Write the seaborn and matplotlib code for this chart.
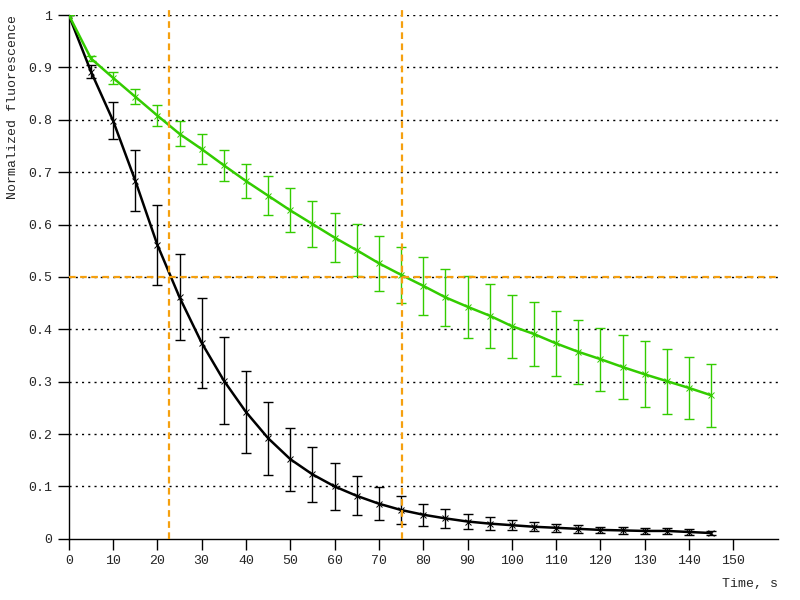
import matplotlib
matplotlib.use("Agg")
import matplotlib.pyplot as plt
import seaborn as sns
import numpy as np

time = list(range(0, 150, 5))

black_mean = [1.0, 0.892, 0.798, 0.684, 0.561, 0.461, 0.374, 0.302, 0.242, 0.192,
              0.152, 0.123, 0.100, 0.082, 0.067, 0.055, 0.046, 0.039, 0.033, 0.029,
              0.026, 0.023, 0.021, 0.019, 0.017, 0.016, 0.015, 0.015, 0.013, 0.011]
black_err = [0.0, 0.012, 0.035, 0.058, 0.077, 0.082, 0.086, 0.083, 0.078, 0.070,
             0.060, 0.053, 0.045, 0.037, 0.031, 0.027, 0.021, 0.018, 0.015, 0.012,
             0.010, 0.009, 0.008, 0.007, 0.006, 0.006, 0.005, 0.006, 0.005, 0.004]

green_mean = [1.0, 0.917, 0.880, 0.844, 0.808, 0.773, 0.744, 0.713, 0.683, 0.655,
              0.627, 0.601, 0.575, 0.551, 0.526, 0.504, 0.483, 0.461, 0.443, 0.426,
              0.406, 0.391, 0.373, 0.357, 0.343, 0.328, 0.314, 0.301, 0.288, 0.274]
green_err = [0.0, 0.005, 0.011, 0.014, 0.020, 0.024, 0.028, 0.030, 0.033, 0.037,
             0.042, 0.043, 0.047, 0.050, 0.052, 0.054, 0.055, 0.055, 0.059, 0.061,
             0.060, 0.061, 0.062, 0.061, 0.060, 0.061, 0.063, 0.062, 0.060, 0.060]

half_times = [22.7, 75.3]
half_level = 0.5

BLACK = "#000000"
GREEN = "#33cc00"
ORANGE = "#f5a00f"

sns.set_style("white")
plt.rcParams["font.family"] = ["Liberation Mono", "DejaVu Sans Mono"]
plt.rcParams["font.size"] = 9.5

fig = plt.figure(figsize=(8, 6), dpi=100)
ax = fig.add_axes([0.086, 0.102, 0.886, 0.873])

# dotted horizontal grid
for yv in np.arange(0.1, 1.01, 0.1):
    ax.axhline(yv, color="black", lw=1, ls=(0, (1.5, 3)), zorder=0)

for mean, err, col in [(black_mean, black_err, BLACK), (green_mean, green_err, GREEN)]:
    sns.lineplot(x=time, y=mean, color=col, marker="x", markersize=4,
                 markeredgewidth=0.7, markeredgecolor=col, lw=1.8, ax=ax, zorder=3)
    ax.errorbar(time, mean, yerr=err, fmt="none", ecolor=col,
                elinewidth=1, capsize=3.5, capthick=1, zorder=2)

for xv in half_times:
    ax.axvline(xv, color=ORANGE, lw=1.6, ls=(0, (3, 2)), zorder=4, ymax=1.01,
               clip_on=False)
ax.axhline(half_level, color=ORANGE, lw=1.6, ls=(0, (3, 2)), zorder=4)

ax.set_xlim(0, 160)
ax.set_ylim(0, 1)
ax.set_xticks(range(0, 151, 10))
ax.set_yticks(np.arange(0, 1.01, 0.1))
ax.set_yticklabels(["0"] + [f"{v:.1f}" for v in np.arange(0.1, 0.95, 0.1)] + ["1"])
ax.tick_params(axis="both", direction="out", length=8, width=1, color="black",
               labelsize=9.5, pad=4, left=True, bottom=True)

sns.despine(ax=ax)
for side in ["left", "bottom"]:
    ax.spines[side].set_color("black")
    ax.spines[side].set_linewidth(1)

ax.set_xlabel("Time, s", fontsize=9.5)
ax.xaxis.set_label_coords(1.0, -0.075)
ax.xaxis.label.set_horizontalalignment("right")
ax.set_ylabel("Normalized fluorescence", fontsize=9.5)
ax.yaxis.set_label_coords(-0.07, 1.0)
ax.yaxis.label.set_verticalalignment("bottom")
ax.yaxis.label.set_horizontalalignment("right")

fig.savefig("out.png", dpi=100)
